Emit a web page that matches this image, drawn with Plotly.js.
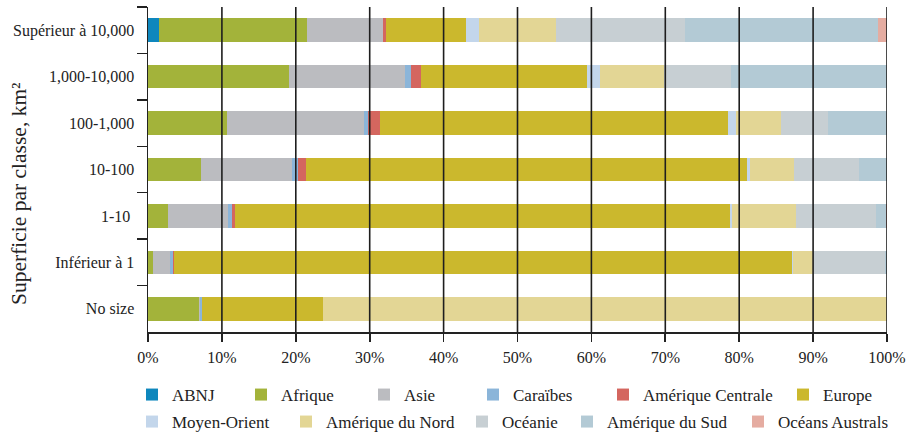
<!DOCTYPE html>
<html>
<head>
<meta charset="utf-8">
<script src="https://cdn.plot.ly/plotly-3.0.1.min.js"></script>
<style>html,body{margin:0;padding:0;background:#fff;}#chart{width:919px;height:432px;}</style>
</head>
<body>
<div id="chart"></div>
<script>
// Categories (top to bottom)
const categories = ["Supérieur à 10,000", "1,000-10,000", "100-1,000", "10-100", "1-10 ", "Inférieur à 1", "No size"];

// Series values (% of each size class)
const ABNJ            = [1.45, 0,     0,     0,     0,     0,     0];
const Afrique         = [20.0, 19.05, 10.66, 7.14,  2.67,  0.64,  6.87];
const Asie            = [10.38,15.71, 18.55, 12.32, 8.12,  2.3,   0.22];
const Caraibes        = [0,    0.82,  0.54,  0.77,  0.55,  0.4,   0.18];
const AmeriqueCentrale= [0.32, 1.35,  1.63,  1.13,  0.4,   0.14,  0];
const Europe          = [10.83,22.48, 47.13, 59.72, 67.04, 83.69, 16.39];
const MoyenOrient     = [1.81, 1.72,  0.99,  0.32,  0.22,  0.13,  0];
const AmeriqueNord    = [10.42,8.75,  6.19,  6.05,  8.62,  2.68,  76.3];
const Oceanie         = [17.47,9.03,  6.36,  8.8,   10.93, 9.79,  0];
const AmeriqueSud     = [26.1, 21.09, 7.95,  3.72,  1.27,  0.23,  0];
const OceansAustrals  = [1.22, 0,     0,     0.03,  0.18,  0,     0];

const seriesNames = ["ABNJ", "Afrique", "Asie", "Caraïbes", "Amérique Centrale", "Europe",
  "Moyen-Orient", "Amérique du Nord", "Océanie", "Amérique du Sud", "Océans Australs"];
const seriesValues = [ABNJ, Afrique, Asie, Caraibes, AmeriqueCentrale, Europe,
  MoyenOrient, AmeriqueNord, Oceanie, AmeriqueSud, OceansAustrals];
const seriesColors = ["#0e87bd", "#a3b33a", "#bbbcc0", "#8bb5d9", "#d4665f", "#cbb82d",
  "#c3d6eb", "#e3d695", "#c7cfd3", "#b3cad5", "#e5aca1"];

// x tick values
const xTicks = [0, 10, 20, 30, 40, 50, 60, 70, 80, 90, 100];

// legend placement (pixel positions of each entry's square, row y centres)
const legendPx = [149, 258, 381, 490, 620, 800, 149, 303, 479, 584, 755];
const legendRowPx = [395, 395, 395, 395, 395, 395, 422, 422, 422, 422, 422];

const FONT = "Liberation Serif, Times New Roman, serif";
const W = 919, H = 432;
const margin = {l: 148, r: 32, t: 7, b: 100};
const plotW = W - margin.l - margin.r;
const plotH = H - margin.t - margin.b;

const traces = seriesNames.map((name, i) => ({
  type: "bar",
  orientation: "h",
  name: name,
  x: seriesValues[i],
  y: categories,
  marker: {color: seriesColors[i], line: {width: 0}},
  legend: i === 0 ? "legend" : "legend" + (i + 1),
  showlegend: true,
  hoverinfo: "skip"
}));

const layout = {
  width: W, height: H,
  margin: margin,
  paper_bgcolor: "#fff",
  plot_bgcolor: "#fff",
  barmode: "stack",
  bargap: 0.49,
  showlegend: true,
  font: {family: FONT, size: 16, color: "#222"},
  xaxis: {
    range: [0, 100],
    tickvals: xTicks,
    ticktext: xTicks.map(v => v + "%"),
    showgrid: false,
    zeroline: false,
    showline: true, linecolor: "#222", linewidth: 1.5,
    ticks: "outside", ticklen: 8, tickcolor: "#222", tickwidth: 1.6,
    ticklabelstandoff: 2,
    tickfont: {family: FONT, size: 16, color: "#222"},
    automargin: false,
    fixedrange: true
  },
  yaxis: {
    type: "category",
    autorange: "reversed",
    showgrid: false, zeroline: false,
    showline: true, linecolor: "#222", linewidth: 1.5,
    ticks: "outside", tickson: "boundaries", ticklen: 10, tickcolor: "#222", tickwidth: 1.5,
    ticklabelstandoff: 9,
    tickfont: {family: FONT, size: 16, color: "#222"},
    automargin: false,
    fixedrange: true
  },
  shapes: xTicks.slice(1).map(v => ({
    type: "line", xref: "x", yref: "paper", x0: v, x1: v, y0: 0, y1: 1,
    layer: "above", line: {color: "#1e1e1e", width: 1.6}
  })),
  annotations: [{
    text: "Superficie par classe, km²",
    xref: "paper", yref: "paper",
    x: (19 - margin.l) / plotW, y: (margin.t + plotH - 194) / plotH,
    xanchor: "center", yanchor: "middle",
    textangle: -90, showarrow: false,
    font: {family: FONT, size: 21.5, color: "#222"}
  }]
};

legendPx.forEach((px, i) => {
  const key = i === 0 ? "legend" : "legend" + (i + 1);
  layout[key] = {
    orientation: "h",
    xref: "container", yref: "container",
    x: (px - 17) / W,
    y: 1 - legendRowPx[i] / H,
    xanchor: "left", yanchor: "middle",
    bgcolor: "rgba(0,0,0,0)", borderwidth: 0,
    font: {family: FONT, size: 17, color: "#222"}
  };
});

Plotly.newPlot("chart", traces, layout, {displayModeBar: false, staticPlot: true});
</script>
</body>
</html>
